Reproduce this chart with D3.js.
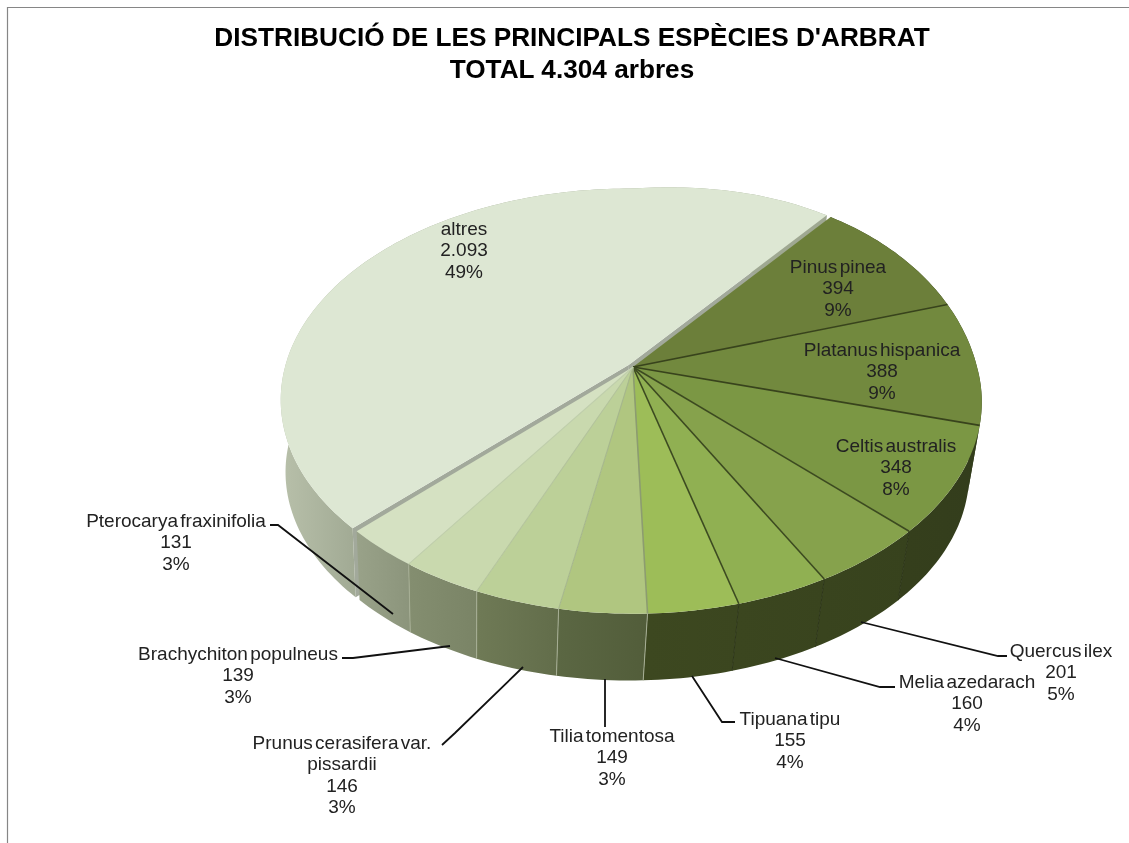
<!DOCTYPE html>
<html lang="ca">
<head>
<meta charset="UTF-8">
<title>Distribució d'arbrat</title>
<script src="https://d3js.org/d3.v7.min.js"></script>
<style>
    html, body { margin: 0; padding: 0; background: #fff; overflow: hidden; }
    svg { filter: blur(0.35px); }
    text { font-family: "Liberation Sans", Arial, sans-serif; fill: #222; }
    .title { font-size: 26.2px; font-weight: bold; fill: #000; text-anchor: middle; }
    .label { font-size: 19px; text-anchor: middle; word-spacing: -3px; }
    .leader { fill: none; stroke: #111; stroke-width: 1.8px; }
</style>
</head>
<body>
<svg width="1129" height="843"></svg>
<script>
    // Chart data
    const species = ["Pinus pinea", "Platanus hispanica", "Celtis australis", "Quercus ilex", "Melia azedarach", "Tipuana tipu", "Tilia tomentosa", "Prunus cerasifera var. pissardii", "Brachychiton populneus", "Pterocarya fraxinifolia", "altres"];
    const trees = [394, 388, 348, 201, 160, 155, 149, 146, 139, 131, 2093];
    const treeLabels = ["394", "388", "348", "201", "160", "155", "149", "146", "139", "131", "2.093"];
    const percents = ["9%", "9%", "8%", "5%", "4%", "4%", "3%", "3%", "3%", "3%", "49%"];
    const titleLines = ["DISTRIBUCIÓ DE LES PRINCIPALS ESPÈCIES D'ARBRAT", "TOTAL 4.304 arbres"];

    // Colours per slice: top face, side left/right, separator
    const topColors = ["#6c7f3a", "#72893e", "#7b9744", "#86a24c", "#90b052", "#9dbd58", "#b0c680", "#bcd098", "#c9d9ae", "#d5e1c2", "#dde7d3"];
    const sideLeft = ["#333d1c", "#333d1c", "#353f1c", "#39441e", "#3b461f", "#3d4820", "#5b6743", "#6f7a56", "#848e70", "#99a289", "#b8c0aa"];
    const sideRight = ["#2e381a", "#303a1b", "#333d1c", "#37421d", "#39441e", "#3b461f", "#525d3a", "#626d4a", "#7a8466", "#8c957c", "#9fa892"];
    const sepColors = ["#38431c", "#38431c", "#38431c", "#3c4a20", "#3c4a20", "#3c4a20", "#8c9c70", "#a6b78c", "#b4c49c", "#c0cfac", "#a2a99b"];

    // Layout of the labels and leader lines, in page pixels
    const labelX = [838, 882, 896, 1061, 967, 790, 612, 342, 238, 176, 464];
    const labelY = [273, 356, 452, 657, 688, 725, 742, 749, 660, 527, 235];
    const leaders = [null, null, null,
        [[861, 622], [998, 656], [1007, 656]],
        [[775, 658], [880, 687], [895, 687]],
        [[692, 676], [722, 722], [735, 722]],
        [[605, 679], [605, 727]],
        [[523, 667], [455, 733], [442, 745]],
        [[450, 646], [353, 658], [342, 658]],
        [[393, 614], [278, 525], [270, 525]],
        null];

    const svg = d3.select("svg");
    const defs = svg.append("defs");

    // Frame
    svg.append("path").attr("d", "M1129,7.5H7.5V843").attr("fill", "none").attr("stroke", "#868686").attr("stroke-width", 1.2);

    // Title
    svg.selectAll(".title").data(titleLines).enter().append("text")
        .attr("class", "title").attr("x", 572).attr("y", (d, i) => 46 + i * 32).text(d => d);

    // Perspective projection of the pie disc
    const cx = 633, cy = 367, rx = 344, ry = 206, k = 0.165;
    const depth = 73, bottomScale = 0.975, bottomShift = -4;
    const backLift = 21; // the far right of the disc sits a little higher in the original

    function project(angle, r, z, off) {
        const u = Math.sin(angle) * r + off[0], v = -Math.cos(angle) * r + off[1];
        const w = 1 / (1 - k * v), s = z ? bottomScale : 1;
        const lift = backLift * Math.max(0, u) * Math.max(0, -v);
        return [cx + rx * u * w * s + (z ? bottomShift : 0), cy + ry * v * w * s - lift + (z ? depth : 0)];
    }

    const startAngle = 40.3 * Math.PI / 180;
    const arcs = d3.pie().sort(null).startAngle(startAngle).endAngle(startAngle + 2 * Math.PI)(trees);
    const line = d3.line();

    function arcPoints(a, z, off) {
        const n = Math.max(4, Math.ceil((a.endAngle - a.startAngle) / 0.02));
        return d3.range(n + 1).map(i => project(a.startAngle + (a.endAngle - a.startAngle) * i / n, 1, z, off));
    }

    function offsetOf(a, gap) {
        const mid = (a.startAngle + a.endAngle) / 2;
        return [Math.sin(mid) * gap, -Math.cos(mid) * gap];
    }

    function drawSlice(a, i) {
        const off = i === 10 ? offsetOf(a, 0.016) : [0, 0];
        const top = arcPoints(a, false, off), bottom = arcPoints(a, true, off);
        const apex = project(0, 0, false, off), apexB = project(0, 0, true, off);

        // Radial cut faces, seen only round the exploded slice
        if (i === 10) {
            [[top[0], bottom[0]], [top[top.length - 1], bottom[bottom.length - 1]]].forEach(e => {
                svg.append("path").attr("d", line([apex, e[0], e[1], apexB]) + "Z").attr("fill", "#a2a99b");
            });
        }

        // Outer wall, with a gradient running along the slice
        const xs = top.map(p => p[0]);
        const gid = "side" + i;
        const g = defs.append("linearGradient").attr("id", gid).attr("gradientUnits", "userSpaceOnUse")
            .attr("x1", d3.min(xs)).attr("x2", i === 10 ? 362 : d3.max(xs)).attr("y1", 0).attr("y2", 0);
        g.append("stop").attr("offset", 0).attr("stop-color", sideLeft[i]);
        g.append("stop").attr("offset", 1).attr("stop-color", sideRight[i]);
        svg.append("path").attr("d", line(top.concat(bottom.slice().reverse())) + "Z").attr("fill", `url(#${gid})`);
        return { top, apex };
    }

    function drawTop(s, i) {
        svg.append("path").attr("d", line([s.apex].concat(s.top)) + "Z").attr("fill", topColors[i]);
    }

    // Exploded slice goes first, the others lie over its cut faces
    const altres = drawSlice(arcs[10], 10);
    drawTop(altres, 10);
    const shapes = arcs.slice(0, 10).map((a, i) => drawSlice(a, i));
    shapes.forEach(drawTop);

    // Separators between the slices, on the top face and down the wall
    arcs.slice(0, 10).forEach((a, i) => {
        if (i === 0) return;
        const p = project(a.startAngle, 1, false, [0, 0]), q = project(a.startAngle, 1, true, [0, 0]);
        svg.append("path").attr("d", line([project(0, 0, false, [0, 0]), p])).attr("stroke", sepColors[i]).attr("stroke-width", i < 7 ? 1.6 : 1.1).attr("fill", "none");
        // walls on the far side are hidden behind the top face
        if (-Math.cos(a.startAngle) > 0.3) {
            svg.append("path").attr("d", line([p, q])).attr("stroke", i >= 6 ? "#a6ae94" : "#2c3518").attr("stroke-width", 1).attr("fill", "none");
        }
    });

    // Leader lines
    leaders.forEach(l => {
        if (l) svg.append("path").attr("class", "leader").attr("d", line(l));
    });

    // Labels
    species.forEach((name, i) => {
        const nameLines = i === 7 ? ["Prunus cerasifera var.", "pissardii"] : [name];
        nameLines.concat([treeLabels[i], percents[i]]).forEach((t, j) => {
            svg.append("text").attr("class", "label").attr("x", labelX[i]).attr("y", labelY[i] + j * 21.3).text(t);
        });
    });
</script>
</body>
</html>
